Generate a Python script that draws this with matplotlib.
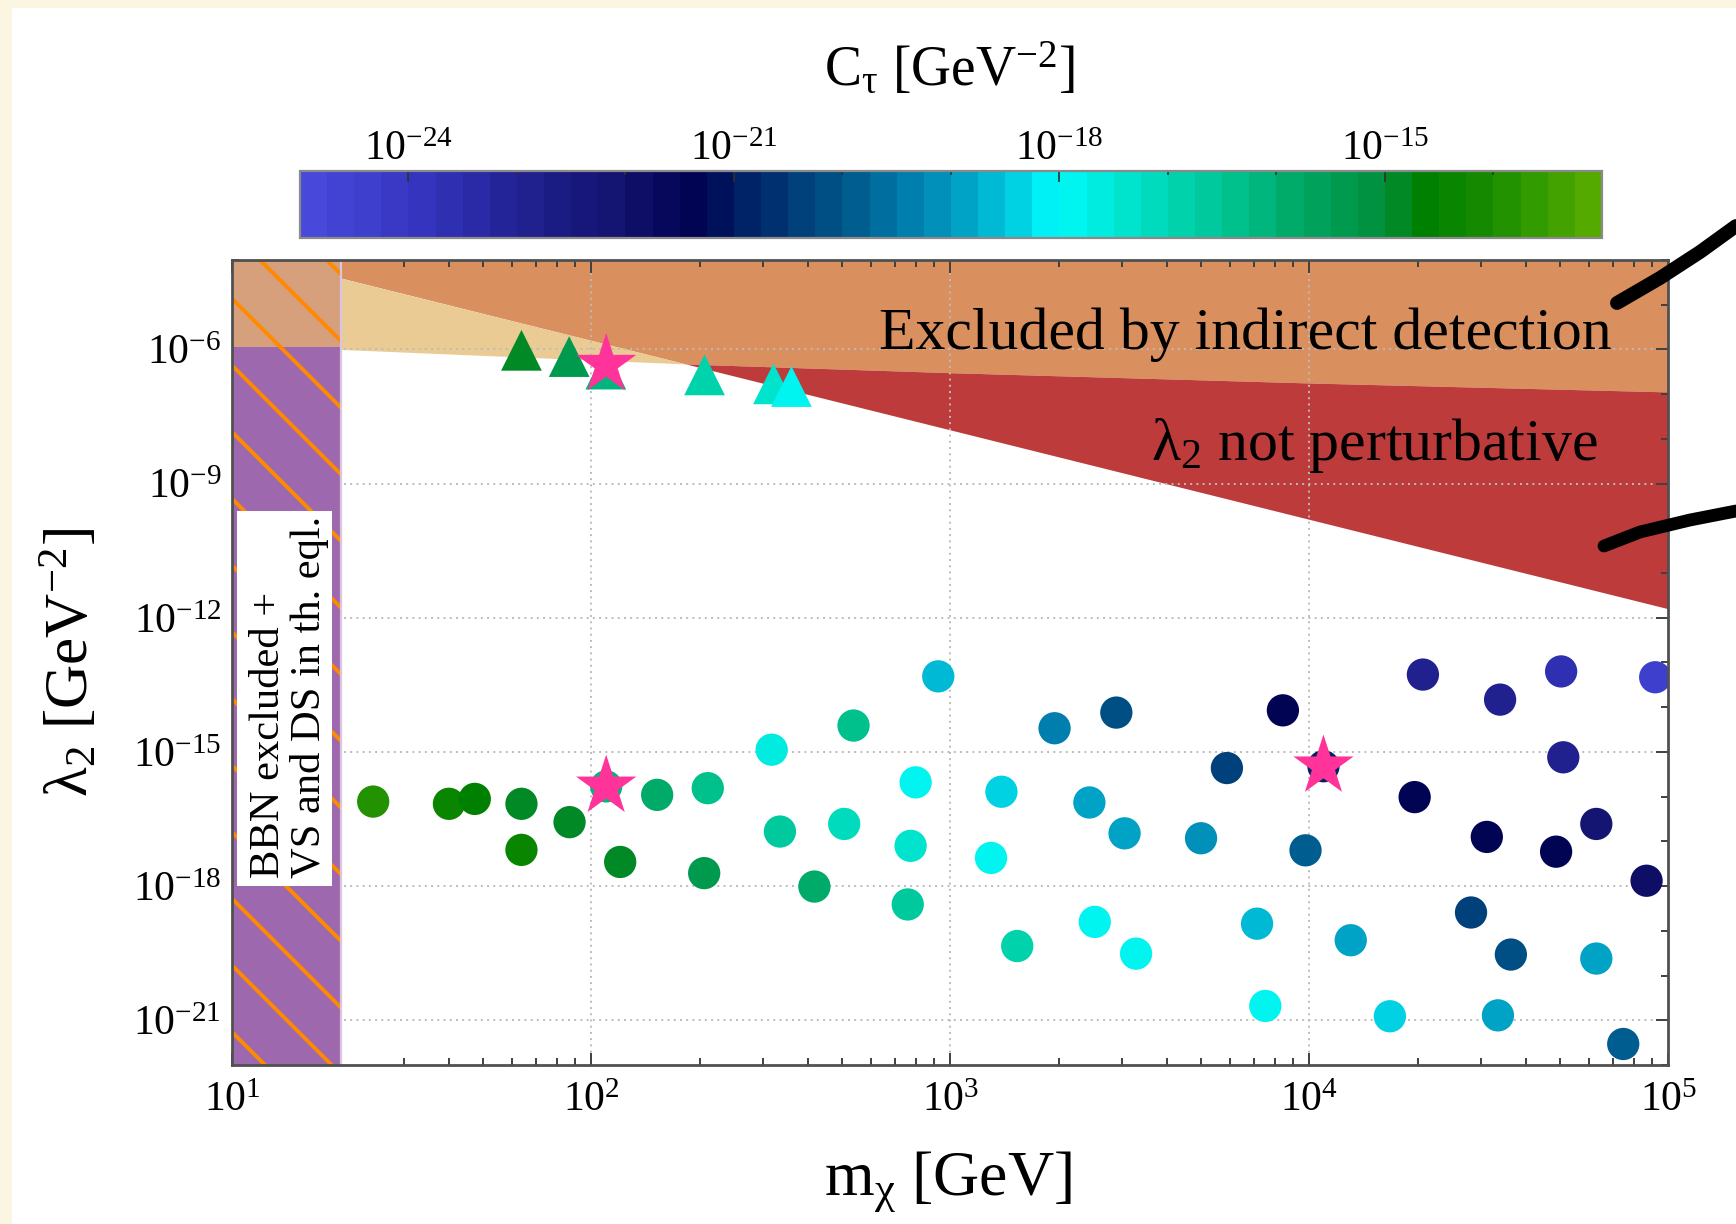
import numpy as np
import matplotlib
matplotlib.use('Agg')
import matplotlib.pyplot as plt
from matplotlib.colors import LinearSegmentedColormap, ListedColormap, LogNorm
from matplotlib.patches import Rectangle
from matplotlib.lines import Line2D
from matplotlib.cm import ScalarMappable
from matplotlib.ticker import FixedLocator, NullFormatter, LogFormatterSciNotation, LogLocator

plt.rcParams['font.family'] = ['Liberation Serif', 'DejaVu Serif']
plt.rcParams['mathtext.fontset'] = 'custom'
plt.rcParams['mathtext.rm'] = 'Liberation Serif'
plt.rcParams['mathtext.it'] = 'Liberation Serif:italic'
plt.rcParams['hatch.linewidth'] = 1.4

# scan points (log10 values)
circ_logm = [1.392, 1.603, 1.675, 1.805, 1.805, 1.939, 2.080, 2.183, 2.324, 2.314,
             2.502, 2.525, 2.704, 2.730, 2.621, 2.889, 2.881, 2.903, 2.966, 3.113,
             3.142, 3.186, 3.290, 3.387, 3.402, 3.462, 3.485, 3.517, 3.698, 3.770,
             3.854, 3.877, 3.926, 3.989, 4.039, 4.115, 4.224, 4.293, 4.316, 4.450,
             4.494, 4.525, 4.531, 4.561, 4.687, 4.701, 4.707, 4.799, 4.799, 4.874,
             4.939, 4.963, 2.041]
circ_loglam = [-16.11, -16.16, -16.05, -16.16, -17.19, -16.57, -17.46, -15.96, -15.81, -17.71,
               -14.95, -16.78, -16.61, -14.41, -18.01, -17.10, -18.41, -15.68, -13.31, -17.37,
               -15.89, -19.34, -14.47, -16.13, -18.80, -14.12, -16.82, -19.51, -16.93, -15.36,
               -18.84, -20.68, -14.07, -17.20, -15.32, -19.21, -20.91, -16.01, -13.27, -18.59,
               -16.90, -20.89, -13.83, -19.53, -17.23, -13.20, -15.12, -19.62, -16.61, -21.53,
               -17.88, -13.33, -15.77]
circ_logC = [-14.0, -14.5, -14.6, -14.8, -14.5, -15.0, -15.0, -16.0, -16.5, -15.4,
             -17.7, -16.7, -17.1, -16.3, -16.0, -17.5, -16.6, -17.9, -18.6, -18.0,
             -18.4, -17.0, -19.4, -18.8, -17.9, -20.2, -18.8, -17.8, -19.1, -20.3,
             -18.6, -18.0, -21.5, -19.8, -21.0, -19.0, -18.5, -21.3, -22.8, -20.3,
             -21.5, -19.0, -22.9, -20.1, -21.5, -23.7, -22.8, -19.0, -22.2, -20.0,
             -21.9, -24.4, -16.1]

tri_logm = [1.805, 1.938, 2.040, 2.315, 2.507, 2.557]
tri_loglam = [-6.02, -6.16, -6.44, -6.57, -6.77, -6.83]
tri_logC = [-15.0, -15.5, -16.1, -16.8, -17.5, -17.9]

star_logm = [2.041, 2.041, 4.039]
star_loglam = [-6.34, -15.77, -15.32]

# constraint lines (log10 m, log10 lambda2)
indir_logm = [1.0, 1.301, 2.28, 3.0, 4.0, 5.0]
indir_loglam = [-5.90, -6.0, -6.33, -6.52, -6.75, -6.95]
pert_logm = [1.0, 5.0]
pert_loglam = [-3.8, -11.8]
bbn_mmax = 20.0
bbn_lam_split = 1.15e-6

# colour scale
cb_logC = [-25, -24, -23, -22, -21.5, -21, -20.5, -20, -19.5, -19, -18.5, -18,
           -17.5, -17, -16.5, -16, -15.5, -15, -14.5, -14, -13.5, -13]
cb_colors = ['#4848da', '#3434be', '#20208f', '#10106a', '#000050', '#001c62', '#003a78',
             '#00588a', '#0078a8', '#0098c0', '#00c2da', '#00fafa', '#00e8d8', '#00d8b8',
             '#00c898', '#00b478', '#00a058', '#009040', '#008000', '#148a00', '#309a00',
             '#55aa00']

cpos = (np.array(cb_logC) - cb_logC[0]) / (cb_logC[-1] - cb_logC[0])
smooth = LinearSegmentedColormap.from_list('ctau', list(zip(cpos, cb_colors)))
cmap = ListedColormap(smooth(np.linspace(0, 1, 48)))
norm = LogNorm(vmin=1e-25, vmax=1e-13)

fig = plt.figure(figsize=(8.68, 6.12), dpi=200, facecolor='#faf6e1')
fig.patches.append(Rectangle((12 / 1736, 0), 1, 1 - 8 / 1224, transform=fig.transFigure,
                             facecolor='white', edgecolor='none', zorder=-10))

ax = fig.add_axes([0.1339, 0.1299, 0.8272, 0.6577])
ax.set_xscale('log')
ax.set_yscale('log')
ax.set_xlim(10, 1e5)
ax.set_ylim(1e-22, 1e-4)

lx = np.linspace(1, 5, 600)
xs = 10 ** lx
yi = 10 ** np.interp(lx, indir_logm, indir_loglam)
yp = 10 ** np.interp(lx, pert_logm, pert_loglam)
top = np.full_like(xs, 1e-4)

ax.fill_between(xs, np.maximum(yi, yp), top, color='#d98f5e', lw=0, zorder=0)
ax.fill_between(xs, yi, yp, where=yp > yi, interpolate=True, color='#eacb94', lw=0, zorder=0)
ax.fill_between(xs, yp, yi, where=yi > yp, interpolate=True, color='#bd3b3b', lw=0, zorder=0)

# BBN strip
ax.add_patch(Rectangle((10, 1e-22), bbn_mmax - 10, bbn_lam_split - 1e-22, facecolor='#9e68ae',
                       edgecolor='#ff8a00', lw=0, hatch='\\', zorder=2))
ax.add_patch(Rectangle((10, bbn_lam_split), bbn_mmax - 10, 1e-4 - bbn_lam_split, facecolor='#d6a07c',
                       edgecolor='#ff8a00', lw=0, hatch='\\', zorder=2))
ax.axvline(bbn_mmax, color='#d9c4e2', lw=0.8, zorder=2)

# grid
for gx in [1e2, 1e3, 1e4]:
    ax.axvline(gx, color='#bcbcbc', lw=0.7, ls=(0, (1, 2.2)), zorder=1)
for gy in [1e-21, 1e-18, 1e-15, 1e-12, 1e-9, 1e-6]:
    ax.axhline(gy, color='#bcbcbc', lw=0.7, ls=(0, (1, 2.2)), zorder=1)

ax.scatter(10 ** np.array(circ_logm), 10 ** np.array(circ_loglam), c=10 ** np.array(circ_logC),
           cmap=cmap, norm=norm, s=135, marker='o', edgecolors='none', zorder=4)
ax.scatter(10 ** np.array(tri_logm), 10 ** np.array(tri_loglam), c=10 ** np.array(tri_logC),
           cmap=cmap, norm=norm, s=215, marker='^', edgecolors='none', zorder=4)
ax.scatter(10 ** np.array(star_logm), 10 ** np.array(star_loglam), c='#ff3399',
           s=520, marker='*', edgecolors='none', zorder=5)

# text labels
ax.text(10 ** 4.843, 10 ** -5.68, 'Excluded by indirect detection', ha='right', va='center',
        fontsize=21.5, zorder=6)
ax.text(10 ** 4.803, 10 ** -8.14, r'$\mathrm{\lambda_2}$ not perturbative', ha='right', va='center',
        fontsize=21.5, zorder=6)
ax.add_patch(Rectangle((10.3, 10 ** -18.0), 18.9 - 10.3, 10 ** -9.62 - 10 ** -18.0,
                       facecolor='white', edgecolor='none', zorder=6))
ax.text(10 ** 1.159, 10 ** -13.78, 'BBN excluded +\nVS and DS in th. eql.', rotation=90,
        ha='center', va='center', multialignment='left', fontsize=15.3, linespacing=1.08, zorder=7)

# axes styling
for sp in ax.spines.values():
    sp.set_color('#505050')
    sp.set_linewidth(1.0)
    sp.set_zorder(8)
ax.yaxis.set_major_locator(FixedLocator([1e-21, 1e-18, 1e-15, 1e-12, 1e-9, 1e-6]))
ax.yaxis.set_minor_locator(FixedLocator(10.0 ** np.arange(-22, -3)))
ax.yaxis.set_major_formatter(LogFormatterSciNotation())
ax.yaxis.set_minor_formatter(NullFormatter())
ax.xaxis.set_major_locator(FixedLocator([1e1, 1e2, 1e3, 1e4, 1e5]))
ax.xaxis.set_minor_locator(LogLocator(subs=np.arange(2, 10)))
ax.xaxis.set_minor_formatter(NullFormatter())
ax.tick_params(which='both', direction='in', top=True, right=True, color='#404040', width=0.7)
ax.tick_params(which='major', length=4.5, labelsize=15)
ax.tick_params(which='minor', length=2.5)
ax.tick_params(axis='x', which='major', pad=6)
ax.tick_params(axis='y', which='major', pad=4)

ax.set_xlabel(r'$\mathrm{m_{\chi}}$ [GeV]', fontsize=23)
ax.set_ylabel(r'$\mathrm{\lambda_{2}}$ [GeV$^{\mathrm{-2}}$]', fontsize=22)
ax.xaxis.set_label_coords(0.498, -0.145)
ax.xaxis.label.set_va('center')
ax.yaxis.set_label_coords(-0.112, 0.5)
ax.yaxis.label.set_va('center')

# colour bar
cax = fig.add_axes([0.1728, 0.8058, 0.7500, 0.0547])
cb = fig.colorbar(ScalarMappable(norm=norm, cmap=cmap), cax=cax, orientation='horizontal')
cb.outline.set_edgecolor('#8a8a8a')
cb.outline.set_linewidth(0.8)
cax.xaxis.set_ticks_position('top')
cax.xaxis.set_label_position('top')
cb.set_ticks([1e-24, 1e-21, 1e-18, 1e-15])
cax.xaxis.set_major_formatter(LogFormatterSciNotation())
cax.xaxis.set_minor_locator(FixedLocator(10.0 ** np.arange(-25, -12)))
cax.xaxis.set_minor_formatter(NullFormatter())
cax.tick_params(which='both', direction='in', color='#303030', width=0.6, top=True, bottom=False)
cax.tick_params(which='major', length=4.0, labelsize=15, pad=0.5)
cax.tick_params(which='minor', length=1.6)

fig.text(0.5467, 0.9428, r'$\mathrm{C_{\tau}}$ [GeV$^{\mathrm{-2}}$]', ha='center', va='center', fontsize=20)

# hand-drawn pointer strokes on the right
fig.add_artist(Line2D(np.array([1617, 1660, 1700, 1736]) / 1736,
                      1 - np.array([303, 278, 252, 226]) / 1224,
                      color='black', lw=5, solid_capstyle='round', solid_joinstyle='round',
                      transform=fig.transFigure))
fig.add_artist(Line2D(np.array([1604, 1640, 1690, 1736]) / 1736,
                      1 - np.array([546, 532, 520, 511]) / 1224,
                      color='black', lw=4.6, solid_capstyle='round', solid_joinstyle='round',
                      transform=fig.transFigure))

fig.savefig('out.png', dpi=200, facecolor=fig.get_facecolor())
